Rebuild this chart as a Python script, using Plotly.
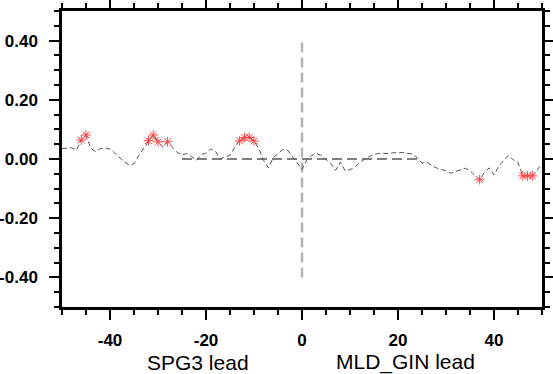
import plotly.graph_objects as go

lags = list(range(-50, 51))
corr = [0.035, 0.037, 0.038, 0.030, 0.064, 0.081, 0.036, 0.025, 0.035, 0.036,
        0.034, 0.020, 0.004, -0.010, -0.020, -0.016, 0.012, 0.035, 0.062, 0.081,
        0.058, 0.040, 0.058, 0.040, 0.022, 0.015, 0.018, 0.008, -0.005, 0.015,
        0.020, 0.034, 0.025, 0.000, 0.008, 0.012, 0.040, 0.061, 0.072, 0.073,
        0.061, 0.035, -0.005, -0.030, 0.005, 0.018, 0.032, 0.030, 0.008, -0.015,
        -0.035, -0.002, 0.012, 0.019, 0.012, -0.002, -0.015, -0.038, -0.010, -0.040,
        -0.036, -0.028, -0.012, -0.002, 0.008, 0.015, 0.019, 0.019, 0.018, 0.021,
        0.021, 0.022, 0.019, 0.017, 0.005, -0.014, -0.010, -0.022, -0.030, -0.035,
        -0.040, -0.048, -0.042, -0.035, -0.031, -0.040, -0.055, -0.070, -0.045, -0.030,
        -0.054, -0.025, -0.005, 0.013, -0.003, -0.012, -0.057, -0.057, -0.057, -0.037,
        -0.015]
sig_lags = [-46, -45, -32, -31, -30, -28, -13, -12, -11, -10, 37, 46, 47, 48]
zero_line_x = [-25, 25]
zero_line_y = [0, 0]
vline_x = [0, 0]
vline_y = [-0.4, 0.4]
xtick_vals = [-40, -20, 0, 20, 40]
xtick_text = ["-40", "-20", "0", "20", "40"]
ytick_vals = [-0.4, -0.2, 0.0, 0.2, 0.4]
ytick_text = ["-0.40", "-0.20", "0.00", "0.20", "0.40"]
lead_labels = ["SPG3 lead", "MLD_GIN lead"]
lead_x = [-21.6, 21.5]

sig_vals = [c if l in sig_lags else None for l, c in zip(lags, corr)]

fig = go.Figure()
fig.add_trace(go.Scatter(x=zero_line_x, y=zero_line_y, mode="lines",
                         line=dict(color="#555555", width=1.3, dash="10px,5px"),
                         hoverinfo="skip"))
fig.add_trace(go.Scatter(x=vline_x, y=vline_y, mode="lines",
                         line=dict(color="#b4b4b4", width=2.5, dash="10px,5px"),
                         hoverinfo="skip"))
fig.add_trace(go.Scatter(x=lags, y=corr, mode="lines",
                         line=dict(color="#555555", width=1, dash="5px,3px")))
fig.add_trace(go.Scatter(x=lags, y=sig_vals, mode="lines+markers",
                         line=dict(color="#cc2222", width=1),
                         marker=dict(symbol="asterisk-open", size=8,
                                     color="#ff4040", line=dict(color="#ff4040", width=1)),
                         connectgaps=False))

for txt, xv in zip(lead_labels, lead_x):
    fig.add_annotation(x=xv, y=-0.186, xref="x", yref="paper", text=txt,
                       showarrow=False, yanchor="middle", xanchor="center",
                       font=dict(family="Liberation Sans, Arial, sans-serif", size=21, color="black"))

axis_common = dict(showgrid=False, zeroline=False, showline=True, linecolor="black",
                   linewidth=2.5, mirror="allticks", ticks="outside", ticklen=10,
                   tickwidth=2, tickcolor="black", automargin=False,
                   tickfont=dict(family="Liberation Sans, Arial, sans-serif", size=17,
                                 color="black", weight="bold"))

fig.update_xaxes(range=[-50, 50], tickvals=xtick_vals, ticktext=xtick_text,
                 minor=dict(ticks="outside", dtick=5, ticklen=5, tickwidth=1.5,
                            tickcolor="black"),
                 ticklabelstandoff=6, **axis_common)
fig.update_yaxes(range=[-0.5, 0.5], tickvals=ytick_vals, ticktext=ytick_text,
                 minor=dict(ticks="outside", dtick=0.05, tick0=0, ticklen=5, tickwidth=1.5,
                            tickcolor="black"),
                 ticklabelstandoff=8, **axis_common)

fig.update_layout(width=553, height=374, showlegend=False,
                  margin=dict(l=62, r=11, t=11, b=67, autoexpand=False),
                  paper_bgcolor="white", plot_bgcolor="white")

fig.write_html("out.html", config={"displayModeBar": False},
               post_script="document.body.style.margin='0';document.body.style.overflow='hidden';")
